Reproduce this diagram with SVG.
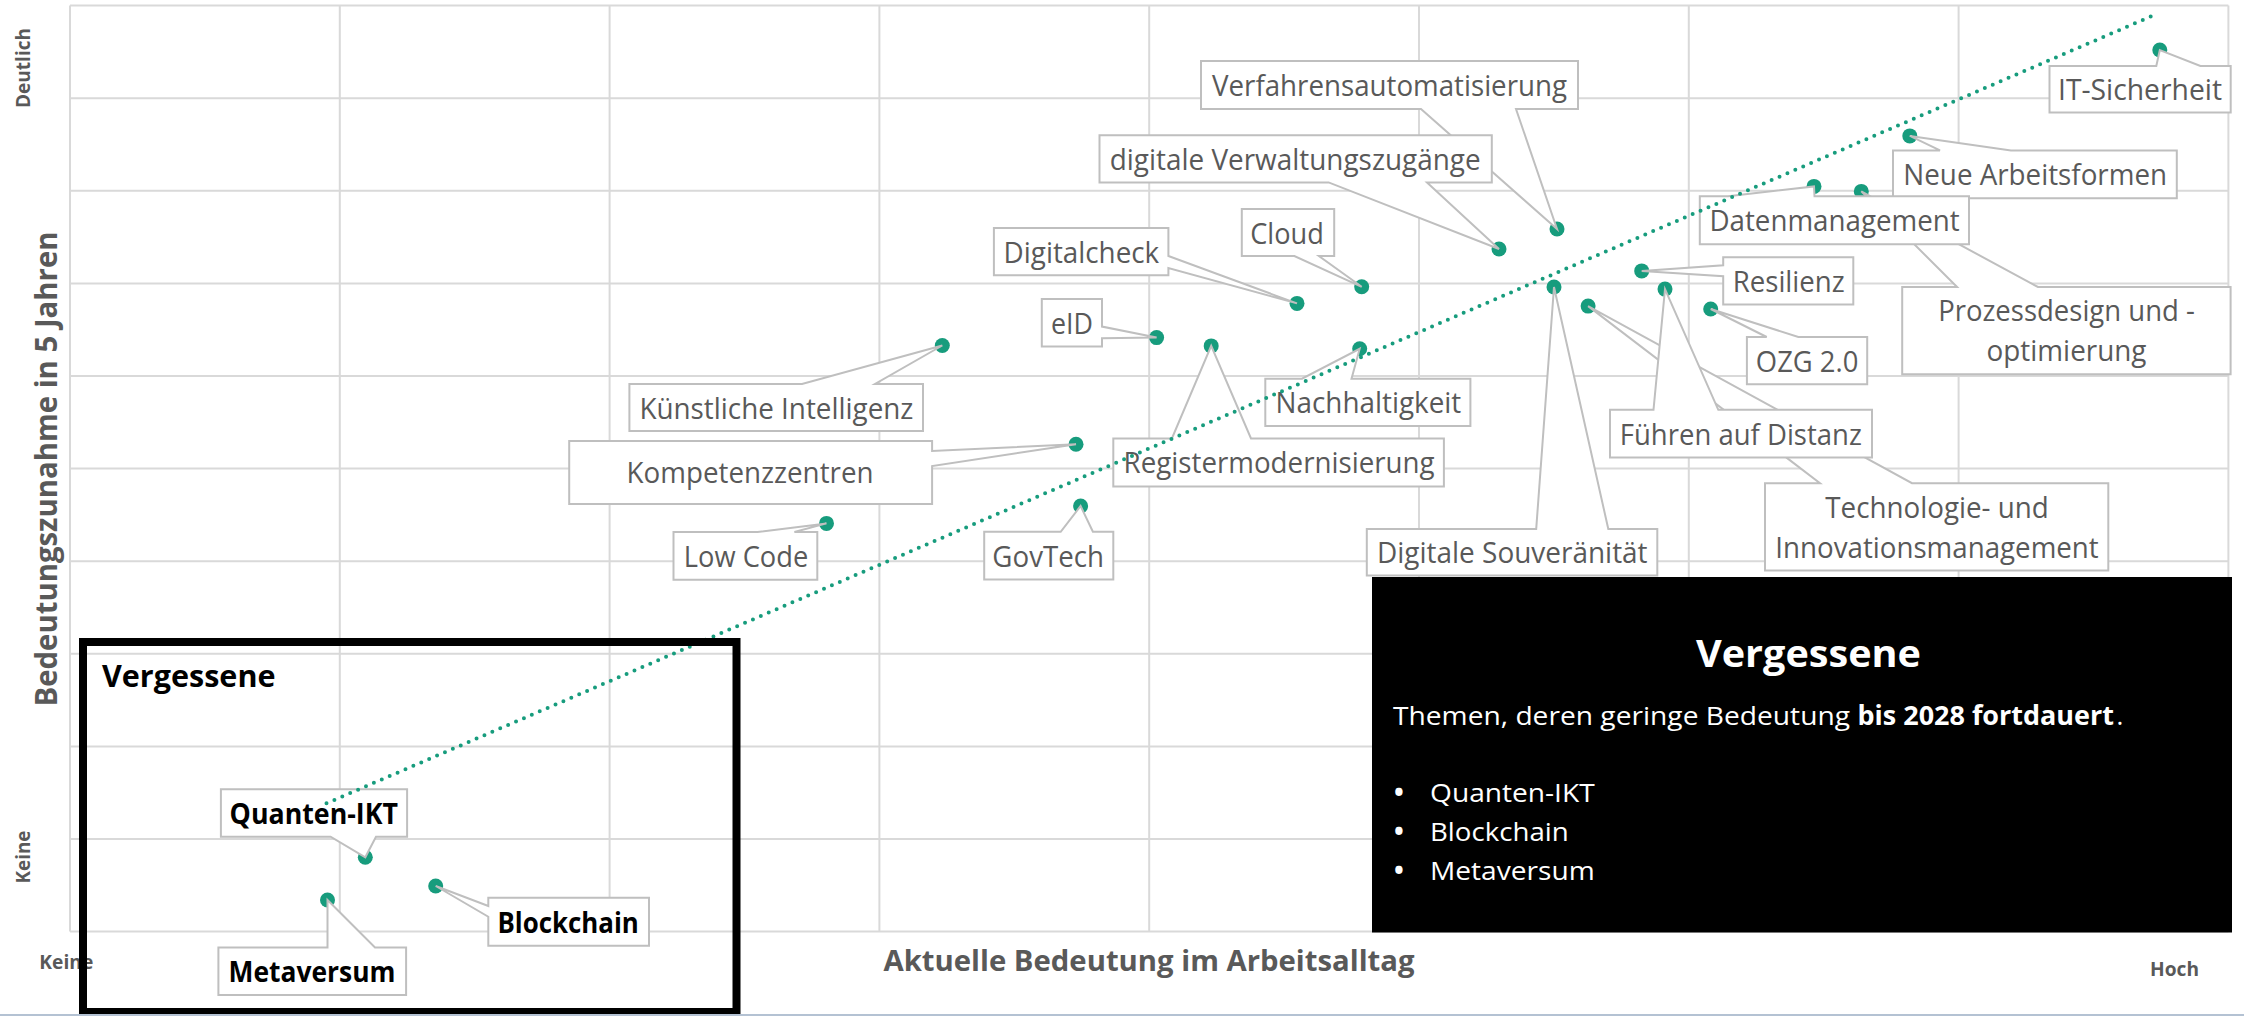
<svg xmlns="http://www.w3.org/2000/svg" width="2244" height="1016" viewBox="0 0 2244 1016">
  <style>
    .grid line { stroke: #d9d9d9; stroke-width: 2; }
    .dot { fill: #179c7d; }
    .callout path { fill: #ffffff; stroke: #bfbfbf; stroke-width: 2; }
    .lbl { font-family: "Open Sans", "Noto Sans", sans-serif; font-size: 29px; fill: #595959; text-anchor: middle; }
    .lbl-b { font-family: "Open Sans", "Noto Sans", sans-serif; font-size: 29px; font-weight: 700; fill: #000000; text-anchor: middle; }
    .axis { font-family: "Open Sans", "Noto Sans", sans-serif; font-weight: 700; fill: #595959; }
    .trend { fill: none; stroke: #179c7d; stroke-width: 4; stroke-dasharray: 0 8.6; stroke-linecap: round; }
    .panel-txt { font-family: "Open Sans", "Noto Sans", sans-serif; font-size: 26px; fill: #ffffff; }
    .bullet { font-family: "Open Sans", "Noto Sans", sans-serif; font-size: 26px; font-weight: 700; fill: #ffffff; text-anchor: middle; }
  </style>

  <rect x="0" y="0" width="2244" height="1016" fill="#ffffff"/>

  <!-- plot grid: 8 columns x 10 rows -->
  <g id="grid" class="grid">
    <line x1="70" y1="5.6" x2="70" y2="931.6"/>
    <line x1="339.8" y1="5.6" x2="339.8" y2="931.6"/>
    <line x1="609.6" y1="5.6" x2="609.6" y2="931.6"/>
    <line x1="879.4" y1="5.6" x2="879.4" y2="931.6"/>
    <line x1="1149.2" y1="5.6" x2="1149.2" y2="931.6"/>
    <line x1="1419" y1="5.6" x2="1419" y2="931.6"/>
    <line x1="1688.8" y1="5.6" x2="1688.8" y2="931.6"/>
    <line x1="1958.6" y1="5.6" x2="1958.6" y2="931.6"/>
    <line x1="2228.4" y1="5.6" x2="2228.4" y2="931.6"/>
    <line x1="70" y1="5.6" x2="2228.4" y2="5.6"/>
    <line x1="70" y1="98.2" x2="2228.4" y2="98.2"/>
    <line x1="70" y1="190.8" x2="2228.4" y2="190.8"/>
    <line x1="70" y1="283.4" x2="2228.4" y2="283.4"/>
    <line x1="70" y1="376" x2="2228.4" y2="376"/>
    <line x1="70" y1="468.6" x2="2228.4" y2="468.6"/>
    <line x1="70" y1="561.2" x2="2228.4" y2="561.2"/>
    <line x1="70" y1="653.8" x2="2228.4" y2="653.8"/>
    <line x1="70" y1="746.4" x2="2228.4" y2="746.4"/>
    <line x1="70" y1="839" x2="2228.4" y2="839"/>
    <line x1="70" y1="931.6" x2="2228.4" y2="931.6"/>
  </g>

  <!-- axis titles and scale ends -->
  <g id="axes">
    <text class="axis" font-size="20" text-anchor="middle" textLength="80" lengthAdjust="spacingAndGlyphs" transform="translate(30,68) rotate(-90)">Deutlich</text>
    <text class="axis" font-size="20" text-anchor="middle" textLength="53" lengthAdjust="spacingAndGlyphs" transform="translate(30,857) rotate(-90)">Keine</text>
    <text class="axis" font-size="30" text-anchor="middle" textLength="475" lengthAdjust="spacingAndGlyphs" transform="translate(57,469) rotate(-90)">Bedeutungszunahme in 5 Jahren</text>
    <text class="axis" font-size="20" x="39.3" y="969" textLength="54" lengthAdjust="spacingAndGlyphs">Keine</text>
    <text class="axis" font-size="20" x="2150" y="976" textLength="49" lengthAdjust="spacingAndGlyphs">Hoch</text>
    <text class="axis" font-size="29" x="1149" y="971" text-anchor="middle" textLength="531" lengthAdjust="spacingAndGlyphs">Aktuelle Bedeutung im Arbeitsalltag</text>
  </g>

  <!-- data points -->
  <g id="points">
    <circle id="pt-ki" class="dot" cx="942.3" cy="345.5" r="7.5"/>
    <circle id="pt-eid" class="dot" cx="1156.6" cy="337.6" r="7.5"/>
    <circle id="pt-register" class="dot" cx="1211.2" cy="345.9" r="7.5"/>
    <circle id="pt-digitalcheck" class="dot" cx="1297" cy="303.4" r="7.5"/>
    <circle id="pt-cloud" class="dot" cx="1361.7" cy="286.8" r="7.5"/>
    <circle id="pt-nachhaltigkeit" class="dot" cx="1359.7" cy="348.8" r="7.5"/>
    <circle id="pt-kompetenz" class="dot" cx="1076" cy="444.3" r="7.5"/>
    <circle id="pt-govtech" class="dot" cx="1080.6" cy="506" r="7.5"/>
    <circle id="pt-lowcode" class="dot" cx="826.5" cy="523.4" r="7.5"/>
    <circle id="pt-zugaenge" class="dot" cx="1499" cy="249" r="7.5"/>
    <circle id="pt-verfahren" class="dot" cx="1557" cy="229" r="7.5"/>
    <circle id="pt-it" class="dot" cx="2159.8" cy="50" r="7.5"/>
    <circle id="pt-arbeitsformen" class="dot" cx="1909.8" cy="135.9" r="7.5"/>
    <circle id="pt-daten" class="dot" cx="1814" cy="186.4" r="7.5"/>
    <circle id="pt-prozess" class="dot" cx="1861.3" cy="191.4" r="7.5"/>
    <circle id="pt-resilienz" class="dot" cx="1641.7" cy="270.9" r="7.5"/>
    <circle id="pt-souveraenitaet" class="dot" cx="1554" cy="287" r="7.5"/>
    <circle id="pt-fuehren" class="dot" cx="1665" cy="289.1" r="7.5"/>
    <circle id="pt-technologie" class="dot" cx="1588.1" cy="306.1" r="7.5"/>
    <circle id="pt-ozg" class="dot" cx="1710.7" cy="309" r="7.5"/>
    <circle id="pt-quanten" class="dot" cx="365.3" cy="857.3" r="7.5"/>
    <circle id="pt-blockchain" class="dot" cx="435.7" cy="886" r="7.5"/>
    <circle id="pt-metaversum" class="dot" cx="327.5" cy="900" r="7.5"/>
  </g>

  <!-- callout labels (box with pointer wedge) -->
  <g id="labels">
    <g id="lbl-verfahren" class="callout">
      <path d="M1201,61 H1578 V109 H1516 L1557,229 L1421,109 H1201 Z"/>
      <text class="lbl" x="1389.5" y="96" textLength="355" lengthAdjust="spacingAndGlyphs">Verfahrensautomatisierung</text>
    </g>
    <g id="lbl-zugaenge" class="callout">
      <path d="M1099.5,135.3 H1491.8 V182.4 H1427 L1499,249 L1328.6,182.4 H1099.5 Z"/>
      <text class="lbl" x="1295.2" y="170" textLength="371" lengthAdjust="spacingAndGlyphs">digitale Verwaltungszugänge</text>
    </g>
    <g id="lbl-cloud" class="callout">
      <path d="M1241.8,208.9 H1334.2 V256 H1318.9 L1361.7,286.8 L1294.4,256 H1241.8 Z"/>
      <text class="lbl" x="1287" y="243.5" textLength="73.5" lengthAdjust="spacingAndGlyphs">Cloud</text>
    </g>
    <g id="lbl-digitalcheck" class="callout">
      <path d="M993.9,228.1 H1168.4 V256 L1297,303.4 L1168.4,268 V275.2 H993.9 Z"/>
      <text class="lbl" x="1081.4" y="262.7" textLength="155.6" lengthAdjust="spacingAndGlyphs">Digitalcheck</text>
    </g>
    <g id="lbl-eid" class="callout">
      <path d="M1041.8,299 H1102 V326.6 L1156.6,337.6 L1102,338.2 V346.5 H1041.8 Z"/>
      <text class="lbl" x="1072" y="333.8" textLength="42" lengthAdjust="spacingAndGlyphs">eID</text>
    </g>
    <g id="lbl-ki" class="callout">
      <path d="M629.4,384 H802 L942.3,345.5 L875,384 H923 V431 H629.4 Z"/>
      <text class="lbl" x="776.4" y="418.5" textLength="274" lengthAdjust="spacingAndGlyphs">Künstliche Intelligenz</text>
    </g>
    <g id="lbl-kompetenz" class="callout">
      <path d="M569.2,441 H932.1 V451 L1076,444.3 L932.1,466 V504 H569.2 Z"/>
      <text class="lbl" x="750" y="483" textLength="247" lengthAdjust="spacingAndGlyphs">Kompetenzzentren</text>
    </g>
    <g id="lbl-nachhaltigkeit" class="callout">
      <path d="M1265.3,378.7 H1302 L1359.7,348.8 L1351.5,378.7 H1470.4 V426.1 H1265.3 Z"/>
      <text class="lbl" x="1368.4" y="413.4" textLength="185.7" lengthAdjust="spacingAndGlyphs">Nachhaltigkeit</text>
    </g>
    <g id="lbl-register" class="callout">
      <path d="M1113.3,438.4 H1171.9 L1211.2,345.9 L1251,438.4 H1443.9 V486.5 H1113.3 Z"/>
      <text class="lbl" x="1279.1" y="473.4" textLength="311" lengthAdjust="spacingAndGlyphs">Registermodernisierung</text>
    </g>
    <g id="lbl-lowcode" class="callout">
      <path d="M673.5,532 H757.5 L826.5,523.4 L794.4,532 H817.3 V579.8 H673.5 Z"/>
      <text class="lbl" x="746" y="566.9" textLength="124.5" lengthAdjust="spacingAndGlyphs">Low Code</text>
    </g>
    <g id="lbl-govtech" class="callout">
      <path d="M984.2,531.8 H1060.7 L1080.6,506 L1092.9,531.8 H1113.3 V579.6 H984.2 Z"/>
      <text class="lbl" x="1048.2" y="566.7" textLength="111.7" lengthAdjust="spacingAndGlyphs">GovTech</text>
    </g>
    <g id="lbl-souveraenitaet" class="callout">
      <path d="M1366.8,529 H1536.2 L1554,287 L1608.3,529 H1657.3 V575.5 H1366.8 Z"/>
      <text class="lbl" x="1512.3" y="563.3" textLength="270.6" lengthAdjust="spacingAndGlyphs">Digitale Souveränität</text>
    </g>
    <g id="lbl-it" class="callout">
      <path d="M2049.5,66 H2156.3 L2159.8,50 L2200.4,66 H2230.7 V112.5 H2049.5 Z"/>
      <text class="lbl" x="2140" y="100.3" textLength="164" lengthAdjust="spacingAndGlyphs">IT-Sicherheit</text>
    </g>
    <g id="lbl-arbeitsformen" class="callout">
      <path d="M1893,150.4 H1940 L1909.8,135.9 L2011,150.4 H2176.8 V198.2 H1893 Z"/>
      <text class="lbl" x="2035.2" y="185.3" textLength="263.7" lengthAdjust="spacingAndGlyphs">Neue Arbeitsformen</text>
    </g>
    <g id="lbl-prozess" class="callout">
      <path d="M1902.2,287 H1957.1 L1861.3,191.4 L2037.9,287 H2230.6 V374.3 H1902.2 Z"/>
      <text class="lbl" x="2066.5" y="321" textLength="256.7" lengthAdjust="spacingAndGlyphs">Prozessdesign und -</text>
      <text class="lbl" x="2066.5" y="361" textLength="160" lengthAdjust="spacingAndGlyphs">optimierung</text>
    </g>
    <g id="lbl-daten" class="callout">
      <path d="M1699.8,196.3 H1728 L1814,186.4 L1814.5,196.3 H1969 V244.2 H1699.8 Z"/>
      <text class="lbl" x="1834.6" y="231.3" textLength="250.3" lengthAdjust="spacingAndGlyphs">Datenmanagement</text>
    </g>
    <g id="lbl-resilienz" class="callout">
      <path d="M1723.2,257.2 H1853.3 V304.5 H1723.2 V276.3 L1641.7,270.9 L1723.2,265.2 Z"/>
      <text class="lbl" x="1788.7" y="291.9" textLength="112" lengthAdjust="spacingAndGlyphs">Resilienz</text>
    </g>
    <g id="lbl-ozg" class="callout">
      <path d="M1746.9,337 H1766.7 L1710.7,309 L1798.3,337 H1867.2 V384.3 H1746.9 Z"/>
      <text class="lbl" x="1807.1" y="371.7" textLength="102.5" lengthAdjust="spacingAndGlyphs">OZG 2.0</text>
    </g>
    <g id="lbl-technologie" class="callout">
      <path d="M1765,483.2 H1820 L1588.1,306.1 L1912,483.2 H2108.3 V570.5 H1765 Z"/>
      <text class="lbl" x="1937" y="517.5" textLength="223.4" lengthAdjust="spacingAndGlyphs">Technologie- und</text>
      <text class="lbl" x="1937" y="557.5" textLength="323.5" lengthAdjust="spacingAndGlyphs">Innovationsmanagement</text>
    </g>
    <g id="lbl-fuehren" class="callout">
      <path d="M1610,409.8 H1653.5 L1665,289.1 L1718.3,409.8 H1872 V457.6 H1610 Z"/>
      <text class="lbl" x="1740.8" y="444.7" textLength="242" lengthAdjust="spacingAndGlyphs">Führen auf Distanz</text>
    </g>
    <g id="lbl-quanten" class="callout">
      <path d="M220.9,789.3 H407.1 V836.7 H376 L365.3,857.3 L330.6,836.7 H220.9 Z"/>
      <text class="lbl-b" x="313.8" y="824" textLength="168.4" lengthAdjust="spacingAndGlyphs">Quanten-IKT</text>
    </g>
    <g id="lbl-blockchain" class="callout">
      <path d="M488.3,897.7 H649 V945.7 H488.3 V916.7 L435.7,886 L488.3,906 Z"/>
      <text class="lbl-b" x="568.1" y="932.7" textLength="141.4" lengthAdjust="spacingAndGlyphs">Blockchain</text>
    </g>
    <g id="lbl-metaversum" class="callout">
      <path d="M218.4,947.5 H327.5 L327.5,900 L375,947.5 H406.1 V995 H218.4 Z"/>
      <text class="lbl-b" x="312" y="982.3" textLength="166.8" lengthAdjust="spacingAndGlyphs">Metaversum</text>
    </g>
  </g>

  <!-- linear trend line -->
  <g id="connectors">
    <line class="trend" x1="326.5" y1="803.3" x2="2158" y2="13.4"/>
  </g>

  <!-- highlighted quadrant frame -->
  <g id="frame-vergessene">
    <rect x="83" y="642" width="653.5" height="370" fill="none" stroke="#000000" stroke-width="8"/>
    <text x="102" y="687" font-family="Open Sans, Noto Sans, sans-serif" font-size="31" font-weight="700" fill="#000000" textLength="173.5" lengthAdjust="spacingAndGlyphs">Vergessene</text>
  </g>

  <!-- explanation panel -->
  <g id="panel-vergessene">
    <rect x="1372" y="577" width="860" height="355.5" fill="#000000"/>
    <text x="1808.5" y="667" font-family="Open Sans, Noto Sans, sans-serif" font-size="38" font-weight="700" fill="#ffffff" text-anchor="middle" textLength="225" lengthAdjust="spacingAndGlyphs">Vergessene</text>
    <text class="panel-txt" x="1393" y="725" textLength="457" lengthAdjust="spacingAndGlyphs">Themen, deren geringe Bedeutung</text>
    <text class="panel-txt" x="1857.5" y="725" font-weight="700" textLength="256.5" lengthAdjust="spacingAndGlyphs">bis 2028 fortdauert</text>
    <text class="panel-txt" x="2116.5" y="725">.</text>
    <text class="bullet" x="1399" y="802">•</text>
    <text class="panel-txt" x="1430" y="801.5" textLength="164.7" lengthAdjust="spacingAndGlyphs">Quanten-IKT</text>
    <text class="bullet" x="1399" y="841">•</text>
    <text class="panel-txt" x="1430" y="840.5" textLength="138.7" lengthAdjust="spacingAndGlyphs">Blockchain</text>
    <text class="bullet" x="1399" y="880">•</text>
    <text class="panel-txt" x="1430" y="879.5" textLength="164.7" lengthAdjust="spacingAndGlyphs">Metaversum</text>
  </g>

  <line x1="0" y1="1015" x2="2244" y2="1015" stroke="#b4c2d3" stroke-width="2"/>
</svg>
